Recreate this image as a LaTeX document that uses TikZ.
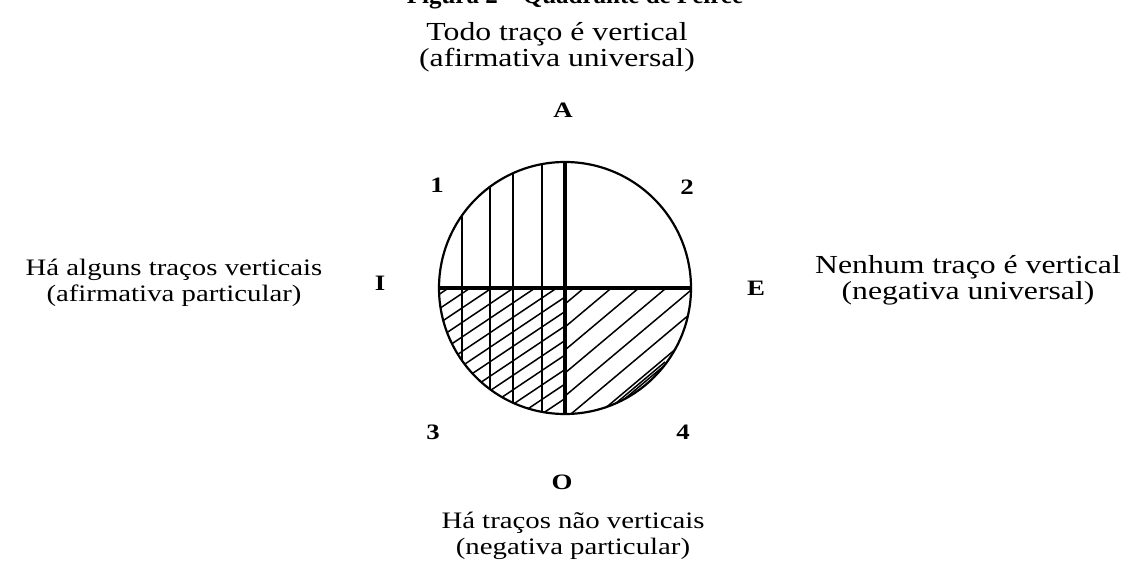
\documentclass[tikz,border=0pt]{standalone}
\usepackage{fontspec}
\setmainfont[FakeStretch=1.22]{Liberation Serif}
\newfontfamily\titlefont{Liberation Serif}

\begin{document}
\begin{tikzpicture}[x=0.5pt, y=0.5pt, caption/.style={align=center, inner sep=0pt, font=\fontsize{13}{13}\selectfont}, smallcaption/.style={caption, font=\fontsize{11.8}{13}\selectfont}, letter/.style={inner sep=0pt, font=\fontsize{11}{11}\selectfont\bfseries}, rim/.style={draw, circle, line width=1.1pt, minimum size=126pt, inner sep=0pt}, axis/.style={line width=1.9pt}, hatch/.style={line width=0.75pt}]
\useasboundingbox (0,0) rectangle (1141,-572);
\node[anchor=base, font=\titlefont\bfseries\fontsize{12.5}{13}\selectfont] (title) at (575,-4) {Figura 2 – Quadrante de Peirce};
\node[caption] (top) at (557,-47) {Todo traço é vertical\\(afirmativa universal)};
\node[smallcaption] (left) at (174,-283) {Há alguns traços verticais\\(afirmativa particular)};
\node[caption] (right) at (968,-280) {Nenhum traço é vertical\\(negativa universal)};
\node[smallcaption] (bottom) at (573,-536) {Há traços não verticais\\(negativa particular)};
\node[letter] (a) at (563,-110) {A};
\node[letter] (i) at (380,-283) {I};
\node[letter] (e) at (756,-288) {E};
\node[letter] (o) at (562,-482) {O};
\node[letter] (n1) at (437,-185) {1};
\node[letter] (n2) at (687,-187) {2};
\node[letter] (n3) at (433,-432) {3};
\node[letter] (n4) at (683,-432) {4};
\node[rim] (q) at (565,-288) {};
\begin{scope}[shift={(q.center)}]
\clip (0,0) circle[radius=126];
\foreach \dx in {-103,-75,-52,-23} \draw[hatch] (\dx,-130) -- (\dx,130);
\begin{scope}
\clip (-130,0) rectangle (0,-130);
\foreach \k in {-125,-110.5,...,95} \draw[hatch] (-130,\k-87.1) -- (0,\k);
\end{scope}
\begin{scope}
\clip (0,0) rectangle (130,-130);
\foreach \k in {-16,-39,...,-154} \draw[hatch] (0,\k) -- (130,\k+109.2);
\foreach \k in {-158,-161} \draw[hatch] (30,\k+25.2) -- (100,\k+84);
\end{scope}
\end{scope}
\draw[axis] (q.west) -- (q.east);
\draw[axis] (q.north) -- (q.south);
\end{tikzpicture}
\end{document}
